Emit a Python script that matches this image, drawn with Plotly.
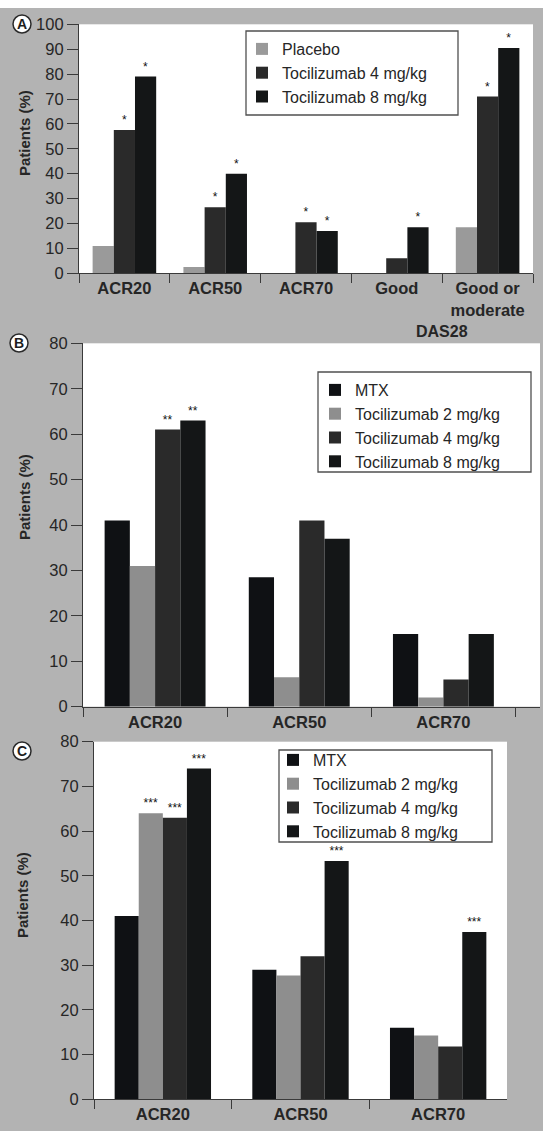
import plotly.graph_objects as go

W, H = 543, 1131

# ---------------- data ----------------
A_categories = ["ACR20", "ACR50", "ACR70", "Good", "Good or<br>moderate"]
A_placebo = [11, 2.5, 0, 0, 18.5]
A_toc4 = [57.5, 26.5, 20.5, 6, 71]
A_toc8 = [79, 40, 17, 18.5, 90.5]
A_sig_placebo = ["", "", "", "", ""]
A_sig_toc4 = ["*", "*", "*", "", "*"]
A_sig_toc8 = ["*", "*", "*", "*", "*"]

B_categories = ["ACR20", "ACR50", "ACR70"]
B_mtx = [41, 28.5, 16]
B_toc2 = [31, 6.5, 2]
B_toc4 = [61, 41, 6]
B_toc8 = [63, 37, 16]
B_sig_mtx = ["", "", ""]
B_sig_toc2 = ["", "", ""]
B_sig_toc4 = ["**", "", ""]
B_sig_toc8 = ["**", "", ""]

C_categories = ["ACR20", "ACR50", "ACR70"]
C_mtx = [41, 29, 16]
C_toc2 = [64, 27.7, 14.3]
C_toc4 = [63, 32, 11.8]
C_toc8 = [74, 53.3, 37.4]
C_sig_mtx = ["", "", ""]
C_sig_toc2 = ["***", "", ""]
C_sig_toc4 = ["***", "", ""]
C_sig_toc8 = ["***", "***", "***"]

A_yticks = list(range(0, 101, 10))
BC_yticks = list(range(0, 81, 10))

# ---------------- style ----------------
FONT = "Liberation Sans, Arial, Helvetica, sans-serif"
TXT = "#262626"
AX = "#3a3a3a"
BG = "#b3b3b3"
C_PLACEBO = "#9a9a9a"
C_TOC2 = "#8e8e8e"
C_TOC4 = "#2a2a2a"
C_TOC8 = "#141617"
C_MTX = "#0f1114"


def px_x(v):
    return v / W


def px_y(v):
    return 1 - v / H


fig = go.Figure()


def add_bar(name, cats, vals, sig, color, xa, ya, legend):
    fig.add_trace(go.Bar(
        name=name, x=cats, y=vals, text=sig, textposition="outside",
        textfont=dict(size=12, color="#111", family=FONT),
        constraintext="none", cliponaxis=False,
        marker=dict(color=color, line=dict(width=0)),
        xaxis=xa, yaxis=ya, legend=legend, hoverinfo="x+y+name",
    ))


add_bar("Placebo", A_categories, A_placebo, A_sig_placebo, C_PLACEBO, "x", "y", "legend")
add_bar("Tocilizumab 4 mg/kg", A_categories, A_toc4, A_sig_toc4, C_TOC4, "x", "y", "legend")
add_bar("Tocilizumab 8 mg/kg", A_categories, A_toc8, A_sig_toc8, C_TOC8, "x", "y", "legend")

add_bar("MTX", B_categories, B_mtx, B_sig_mtx, C_MTX, "x2", "y2", "legend2")
add_bar("Tocilizumab 2 mg/kg", B_categories, B_toc2, B_sig_toc2, C_TOC2, "x2", "y2", "legend2")
add_bar("Tocilizumab 4 mg/kg", B_categories, B_toc4, B_sig_toc4, C_TOC4, "x2", "y2", "legend2")
add_bar("Tocilizumab 8 mg/kg", B_categories, B_toc8, B_sig_toc8, C_TOC8, "x2", "y2", "legend2")

add_bar("MTX", C_categories, C_mtx, C_sig_mtx, C_MTX, "x3", "y3", "legend3")
add_bar("Tocilizumab 2 mg/kg", C_categories, C_toc2, C_sig_toc2, C_TOC2, "x3", "y3", "legend3")
add_bar("Tocilizumab 4 mg/kg", C_categories, C_toc4, C_sig_toc4, C_TOC4, "x3", "y3", "legend3")
add_bar("Tocilizumab 8 mg/kg", C_categories, C_toc8, C_sig_toc8, C_TOC8, "x3", "y3", "legend3")


def xaxis(domain, rng, anchor):
    return dict(
        domain=domain, range=rng, anchor=anchor, type="category", automargin=False,
        showline=True, linecolor=AX, linewidth=1.2,
        ticks="outside", tickson="boundaries", ticklen=9, tickcolor=AX, tickwidth=1.2,
        tickfont=dict(family=FONT, size=16.5, color=TXT, weight="bold"),
        showgrid=False, zeroline=False, fixedrange=True,
    )


def yaxis(domain, rng, tickvals, anchor):
    return dict(
        domain=domain, range=rng, anchor=anchor, automargin=False,
        tickmode="array", tickvals=tickvals,
        showline=True, linecolor=AX, linewidth=1.2,
        ticks="outside", ticklen=11, tickcolor=AX, tickwidth=1.2,
        tickfont=dict(family=FONT, size=16.5, color=TXT),
        showgrid=False, zeroline=False, fixedrange=True,
    )


def legend(x_left, y_top):
    return dict(
        x=px_x(x_left), y=px_y(y_top), xanchor="left", yanchor="top",
        xref="paper", yref="paper",
        bgcolor="rgba(0,0,0,0)", borderwidth=0,
        font=dict(family=FONT, size=16, color=TXT),
        itemclick=False, itemdoubleclick=False, tracegroupgap=0,
    )


fig.update_layout(
    width=W, height=H, autosize=False,
    margin=dict(l=0, r=0, t=0, b=0, pad=0, autoexpand=False),
    paper_bgcolor=BG, plot_bgcolor="white",
    barmode="group", bargap=0.3, bargroupgap=0,
    font=dict(family=FONT, color=TXT),
    showlegend=True,
    xaxis=xaxis([px_x(79), px_x(533)], [-0.5, 4.5], "y"),
    yaxis=yaxis([px_y(273.3), px_y(24.3)], [0, 100], A_yticks, "x"),
    xaxis2=xaxis([px_x(83), px_x(540)], [-0.5, 2.67], "y2"),
    yaxis2=yaxis([px_y(706.7), px_y(343.3)], [0, 80], BC_yticks, "x2"),
    xaxis3=xaxis([px_x(94), px_x(507)], [-0.5, 2.5], "y3"),
    yaxis3=yaxis([px_y(1099.3), px_y(741.7)], [0, 80], BC_yticks, "x3"),
    legend=legend(242, 32),
    legend2=legend(315, 373),
    legend3=legend(273, 743),
)

shapes = []
# white strip at very top of the figure
shapes.append(dict(type="rect", xref="paper", yref="paper", x0=0, x1=1, y0=px_y(8), y1=1,
                   fillcolor="white", line=dict(width=0), layer="below"))
# legend boxes
for (x0, x1, y0, y1) in [(246, 458, 31, 115), (318, 531, 372, 472), (279, 492, 750, 842)]:
    shapes.append(dict(type="rect", xref="paper", yref="paper",
                       x0=px_x(x0), x1=px_x(x1), y0=px_y(y1), y1=px_y(y0),
                       line=dict(color="#505050", width=1.3), fillcolor="rgba(0,0,0,0)", layer="above"))
# circled panel letters
panel_letters = [("A", 22, 24), ("B", 19, 343), ("C", 22, 751)]
r = 9
for (_, cx, cy) in panel_letters:
    shapes.append(dict(type="circle", xref="paper", yref="paper",
                       x0=px_x(cx - r), x1=px_x(cx + r), y0=px_y(cy + r), y1=px_y(cy - r),
                       line=dict(color="#2a2a2a", width=1.5), fillcolor="white", layer="above"))

annotations = []
for (letter, cx, cy) in panel_letters:
    annotations.append(dict(text=letter, x=px_x(cx), y=px_y(cy), xref="paper", yref="paper",
                            xanchor="center", yanchor="middle", showarrow=False,
                            font=dict(family=FONT, size=14, color="#1e1e1e", weight="bold")))
for (tx, ty) in [(24, 133), (24, 497), (22, 895)]:
    annotations.append(dict(text="Patients (%)", x=px_x(tx), y=px_y(ty), xref="paper", yref="paper",
                            xanchor="center", yanchor="middle", showarrow=False, textangle=-90,
                            font=dict(family=FONT, size=15, color=TXT, weight="bold")))
annotations.append(dict(text="DAS28", x=px_x(442), y=px_y(331), xref="paper", yref="paper",
                        xanchor="center", yanchor="middle", showarrow=False,
                        font=dict(family=FONT, size=16, color=TXT, weight="bold")))

fig.update_layout(shapes=shapes, annotations=annotations)

fig.write_html("out.html", config={"displayModeBar": False},
               post_script="document.body.style.margin='0px';")
